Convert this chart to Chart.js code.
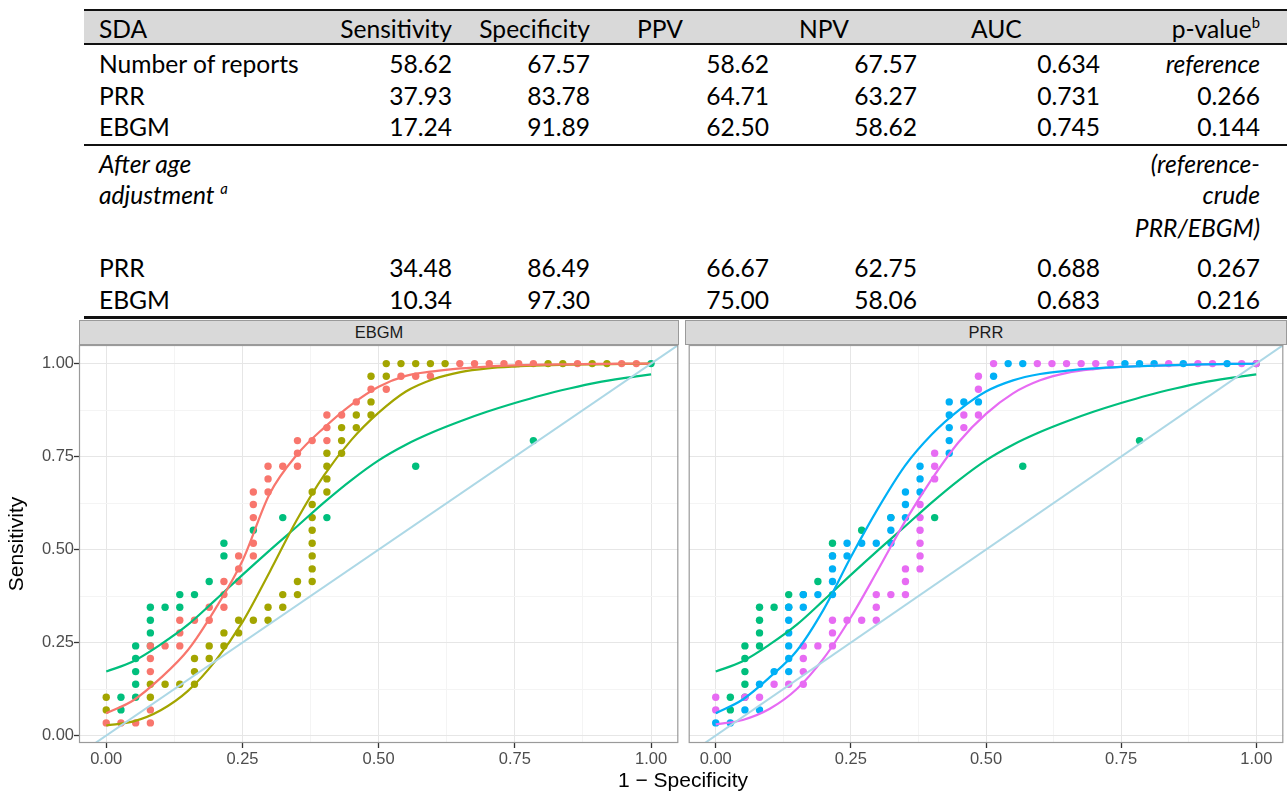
<!DOCTYPE html>
<html>
<head>
<meta charset="utf-8">
<script src="https://cdn.jsdelivr.net/npm/chart.js@4.4.1/dist/chart.umd.min.js"></script>
<style>
  body { margin: 0; width: 1287px; height: 794px; background: #fff; position: relative; overflow: hidden; }
  .t { position: absolute; line-height: 30px; white-space: nowrap; font-family: Lato, "Open Sans", sans-serif; font-size: var(--tf, 24px); color: #000; }
  .i { font-style: italic; }
  .sup { font-size: 0.6em; position: relative; top: -0.65em; }
  .rule { position: absolute; left: 84px; width: 1203px; background: #111; }
  .strip { position: absolute; top: 320px; height: 25px; box-sizing: border-box; background: #d9d9d9; border: 1px solid #9a9a9a;
           font: 16.5px "Liberation Sans", Arial, sans-serif; color: #1a1a1a; text-align: center; line-height: 23px; }
  .wrap { position: absolute; top: 318px; height: 476px; }
  #xtitle { position: absolute; left: 533px; width: 300px; top: 768px; text-align: center; font: 21px "Liberation Sans", Arial, sans-serif; color: #000; }
</style>
</head>
<body>

<!-- table -->
<div style="position:absolute;left:84px;top:11px;width:1203px;height:33px;background:#d9d9d9"></div>
<div class="rule" style="top:9px;height:2px"></div>
<div class="rule" style="top:43px;height:2px"></div>
<div class="rule" style="top:144px;height:2px"></div>
<div class="rule" style="top:316px;height:3px"></div>

<span class="t" style="top:14px;left:99px">SDA</span>
<span class="t" style="top:14px;right:835px">Sensitivity</span>
<span class="t" style="top:14px;right:697px">Specificity</span>
<span class="t" style="top:14px;left:637px">PPV</span>
<span class="t" style="top:14px;left:799px">NPV</span>
<span class="t" style="top:14px;left:971px">AUC</span>
<span class="t" style="top:14px;right:27px">p-value<span class="sup">b</span></span>

<span class="t" style="top:49px;left:99px">Number of reports</span>
<span class="t" style="top:49px;right:835px">58.62</span>
<span class="t" style="top:49px;right:697px">67.57</span>
<span class="t" style="top:49px;right:518px">58.62</span>
<span class="t" style="top:49px;right:370px">67.57</span>
<span class="t" style="top:49px;right:187px">0.634</span>
<span class="t i" style="top:49px;right:27px">reference</span>

<span class="t" style="top:81px;left:99px">PRR</span>
<span class="t" style="top:81px;right:835px">37.93</span>
<span class="t" style="top:81px;right:697px">83.78</span>
<span class="t" style="top:81px;right:518px">64.71</span>
<span class="t" style="top:81px;right:370px">63.27</span>
<span class="t" style="top:81px;right:187px">0.731</span>
<span class="t" style="top:81px;right:27px">0.266</span>

<span class="t" style="top:112px;left:99px">EBGM</span>
<span class="t" style="top:112px;right:835px">17.24</span>
<span class="t" style="top:112px;right:697px">91.89</span>
<span class="t" style="top:112px;right:518px">62.50</span>
<span class="t" style="top:112px;right:370px">58.62</span>
<span class="t" style="top:112px;right:187px">0.745</span>
<span class="t" style="top:112px;right:27px">0.144</span>

<span class="t i" style="top:149px;left:99px">After age</span>
<span class="t i" style="top:180px;left:99px">adjustment <span class="sup">a</span></span>
<span class="t i" style="top:149px;right:27px">(reference-</span>
<span class="t i" style="top:180px;right:27px">crude</span>
<span class="t i" style="top:213px;right:27px">PRR/EBGM)</span>

<span class="t" style="top:253px;left:99px">PRR</span>
<span class="t" style="top:253px;right:835px">34.48</span>
<span class="t" style="top:253px;right:697px">86.49</span>
<span class="t" style="top:253px;right:518px">66.67</span>
<span class="t" style="top:253px;right:370px">62.75</span>
<span class="t" style="top:253px;right:187px">0.688</span>
<span class="t" style="top:253px;right:27px">0.267</span>

<span class="t" style="top:285px;left:99px">EBGM</span>
<span class="t" style="top:285px;right:835px">10.34</span>
<span class="t" style="top:285px;right:697px">97.30</span>
<span class="t" style="top:285px;right:518px">75.00</span>
<span class="t" style="top:285px;right:370px">58.06</span>
<span class="t" style="top:285px;right:187px">0.683</span>
<span class="t" style="top:285px;right:27px">0.216</span>

<!-- plots -->
<div class="wrap" style="left:0;width:682px"><canvas id="ebgm"></canvas></div>
<div class="wrap" style="left:685px;width:602px"><canvas id="prr"></canvas></div>
<div class="strip" style="left:79px;width:600px">EBGM</div>
<div class="strip" style="left:685px;width:602px">PRR</div>
<div id="xtitle">1 − Specificity</div>

<script>
// fit the table font so it is about as wide as the original Calibri text
const mctx = document.createElement("canvas").getContext("2d");
mctx.font = '100px Lato, "Open Sans", sans-serif';
const tf = 100 * 201 / mctx.measureText("Number of reports").width;
document.body.style.setProperty("--tf", tf.toFixed(1) + "px");

const xTicks = [0, 0.125, 0.25, 0.375, 0.5, 0.625, 0.75, 0.875, 1];
const yTicks = [0, 0.125, 0.25, 0.375, 0.5, 0.625, 0.75, 0.875, 1];

// [1 - specificity, sensitivity] per threshold
const reportsPts = [[.027,.069],[.027,.103],[.054,.103],[.054,.138],[.054,.172],[.054,.207],[.054,.241],
  [.081,.241],[.081,.276],[.081,.310],[.081,.345],[.108,.345],[.135,.345],[.135,.379],[.162,.379],
  [.189,.414],[.216,.483],[.216,.517],[.270,.552],[.324,.586],[.405,.586],[.568,.724],[.784,.793],[1,1]];

const ebgmPts = [[0,.034],[.027,.034],[.054,.034],[.081,.034],[.081,.069],[.081,.172],[.081,.207],[.081,.241],
  [.108,.241],[.135,.241],[.135,.276],[.135,.310],[.162,.310],[.189,.310],[.189,.345],[.216,.345],[.216,.379],
  [.216,.414],[.243,.414],[.243,.448],[.243,.483],[.270,.483],[.270,.517],[.270,.586],[.270,.621],[.270,.655],
  [.297,.655],[.297,.690],[.297,.724],[.324,.724],[.351,.724],[.351,.759],[.351,.793],[.378,.793],[.405,.793],
  [.405,.828],[.405,.862],[.432,.862],[.459,.897],[.486,.931],[.514,.931],[.541,.966],[.568,.966],[.595,.966],
  [.649,1],[.676,1],[.703,1],[.730,1],[.757,1],[.784,1],[.865,1],[.946,1],[.973,1]];

const ebgmAdjPts = [[0,.069],[0,.103],[.081,.103],[.081,.138],[.108,.138],[.135,.138],[.162,.138],[.162,.172],
  [.162,.207],[.189,.207],[.189,.241],[.216,.241],[.216,.276],[.243,.276],[.243,.310],[.270,.310],[.297,.310],
  [.297,.345],[.324,.345],[.324,.379],[.351,.379],[.351,.414],[.378,.414],[.378,.448],[.378,.483],[.378,.517],
  [.378,.552],[.378,.586],[.378,.621],[.378,.655],[.405,.655],[.405,.690],[.405,.724],[.405,.759],[.432,.759],
  [.432,.793],[.432,.828],[.459,.828],[.459,.862],[.486,.862],[.486,.897],[.486,.966],[.514,.966],[.514,1],
  [.541,1],[.568,1],[.595,1],[.622,1],[.811,1],[.838,1],[.892,1],[.919,1]];

const prrPts = [[0,.034],[.027,.034],[.054,.069],[.081,.069],[.081,.138],[.108,.172],[.135,.172],[.135,.207],
  [.135,.241],[.135,.276],[.135,.310],[.135,.345],[.162,.345],[.162,.379],[.189,.379],[.216,.379],[.216,.414],
  [.216,.448],[.216,.483],[.243,.483],[.243,.517],[.270,.517],[.297,.517],[.324,.517],[.324,.552],[.324,.586],
  [.351,.586],[.351,.621],[.351,.655],[.378,.655],[.378,.690],[.378,.724],[.432,.759],[.432,.793],[.432,.828],
  [.432,.862],[.432,.897],[.459,.897],[.486,.897],[.514,.966],[.541,1],[.568,1],[.757,1],[.784,1],[.811,1],
  [.865,1],[.946,1]];

const prrAdjPts = [[0,.069],[0,.103],[.054,.103],[.081,.103],[.108,.138],[.135,.138],[.162,.138],[.162,.172],
  [.162,.207],[.162,.241],[.189,.241],[.216,.241],[.216,.276],[.216,.310],[.243,.310],[.270,.310],[.297,.310],
  [.297,.345],[.297,.379],[.324,.379],[.351,.379],[.351,.414],[.351,.448],[.378,.448],[.378,.483],[.378,.517],
  [.378,.552],[.378,.586],[.378,.621],[.405,.690],[.405,.724],[.405,.759],[.459,.828],[.459,.862],[.486,.862],
  [.486,.931],[.486,.966],[.514,1],[.595,1],[.622,1],[.649,1],[.676,1],[.703,1],[.730,1],[.838,1],[.892,1],
  [.919,1],[.973,1],[1,1]];

// fitted curves, read every 0.05 of 1 - specificity
const curveX = [0, .05, .1, .15, .2, .25, .3, .35, .4, .45, .5, .55, .6, .65, .7, .75, .8, .85, .9, .95, 1];
const reportsCurve = [.172,.200,.245,.298,.364,.432,.498,.562,.627,.687,.740,.782,.816,.845,.871,.894,.915,.933,.949,.961,.971];
const ebgmCurve    = [.060,.095,.155,.230,.340,.470,.650,.755,.828,.890,.938,.967,.979,.987,.992,.995,.997,.998,.999,1,1];
const ebgmAdjCurve = [.027,.038,.068,.120,.200,.305,.440,.580,.700,.795,.868,.925,.958,.977,.987,.992,.995,.997,.998,.999,1];
const prrCurve     = [.060,.097,.157,.228,.340,.480,.610,.725,.810,.875,.925,.955,.972,.981,.987,.991,.994,.996,.998,.999,1];
const prrAdjCurve  = [.030,.042,.072,.125,.208,.318,.445,.575,.690,.790,.865,.920,.955,.975,.985,.991,.994,.996,.998,.999,1];
const diagonal = [[-0.1, -0.1], [1.1, 1.1]];

const RED = "#F8766D", OLIVE = "#A3A500", GREEN = "#00BF7D", BLUE = "#00B0F6", PINK = "#E76BF3", LIGHT = "#ADD8E6";

Chart.defaults.font.family = '"Liberation Sans", Arial, sans-serif';
Chart.defaults.animation = false;

const isMajor = v => Math.abs(v * 4 - Math.round(v * 4)) < 1e-6;

function points(arr, color, order) {
  return { data: arr.map(p => ({ x: p[0], y: p[1] })), showLine: false, pointRadius: 3.7, pointHoverRadius: 3.7,
    pointBorderWidth: 0, backgroundColor: color, borderColor: color, order };
}
function curve(ys, color) {
  return { data: curveX.map((x, i) => ({ x, y: ys[i] })), showLine: true, pointRadius: 0, borderWidth: 2.2,
    borderColor: color, cubicInterpolationMode: "monotone", fill: false, order: 1 };
}
function refLine() {
  return { data: diagonal.map(p => ({ x: p[0], y: p[1] })), showLine: true, pointRadius: 0, borderWidth: 2,
    borderColor: LIGHT, fill: false, order: 0 };
}

const panelBorder = {
  id: "panelBorder",
  afterDraw(chart) {
    const a = chart.chartArea, ctx = chart.ctx;
    ctx.save();
    ctx.strokeStyle = "#9a9a9a";
    ctx.lineWidth = 1.2;
    ctx.strokeRect(a.left + 0.5, a.top + 0.5, a.right - a.left - 1, a.bottom - a.top - 1);
    ctx.restore();
  }
};

function grid(showTicks) {
  return {
    color: c => (c.tick && isMajor(c.tick.value)) ? "#e6e6e6" : "#f4f4f4",
    lineWidth: 1,
    drawTicks: showTicks,
    tickLength: showTicks ? 5 : 0,
    tickWidth: 1.3,
    tickColor: c => (c.tick && isMajor(c.tick.value)) ? "#333" : "rgba(0,0,0,0)"
  };
}

function xScale() {
  return {
    type: "linear", min: -0.05, max: 1.05,
    afterBuildTicks: s => { s.ticks = xTicks.map(v => ({ value: v })); },
    afterFit: s => { s.height = 51; },
    ticks: { callback: v => isMajor(v) ? v.toFixed(2) : "", autoSkip: false, maxRotation: 0,
             font: { size: 16.5 }, color: "#4d4d4d", padding: 2 },
    grid: grid(true),
    border: { display: false }
  };
}

function options(withAxis) {
  return {
    responsive: true, maintainAspectRatio: false,
    layout: { padding: { top: 27, right: withAxis ? 3 : 0, left: 0, bottom: 0 } },
    plugins: { legend: { display: false }, tooltip: { enabled: false } },
    scales: {
      x: xScale(),
      y: {
        type: "linear", min: -0.02, max: 1.05,
        afterBuildTicks: s => { s.ticks = yTicks.map(v => ({ value: v })); },
        afterFit: s => { s.width = withAxis ? 79 : 0; },
        ticks: { display: withAxis, callback: v => isMajor(v) ? v.toFixed(2) : "",
                 font: { size: 16.5 }, color: "#4d4d4d", padding: 0 },
        grid: grid(withAxis),
        border: { display: false },
        title: { display: withAxis, text: "Sensitivity", color: "#000", font: { size: 21 },
                 padding: { top: 5, bottom: 0 } }
      }
    }
  };
}

new Chart(document.getElementById("ebgm"), {
  type: "scatter",
  data: { datasets: [
    refLine(),
    curve(ebgmCurve, RED), curve(ebgmAdjCurve, OLIVE), curve(reportsCurve, GREEN),
    points(ebgmAdjPts, OLIVE, 2), points(ebgmPts, RED, 3), points(reportsPts, GREEN, 4)
  ] },
  options: options(true),
  plugins: [panelBorder]
});

new Chart(document.getElementById("prr"), {
  type: "scatter",
  data: { datasets: [
    refLine(),
    curve(prrCurve, BLUE), curve(prrAdjCurve, PINK), curve(reportsCurve, GREEN),
    points(prrAdjPts, PINK, 2), points(prrPts, BLUE, 3), points(reportsPts, GREEN, 4)
  ] },
  options: options(false),
  plugins: [panelBorder]
});
</script>
</body>
</html>
